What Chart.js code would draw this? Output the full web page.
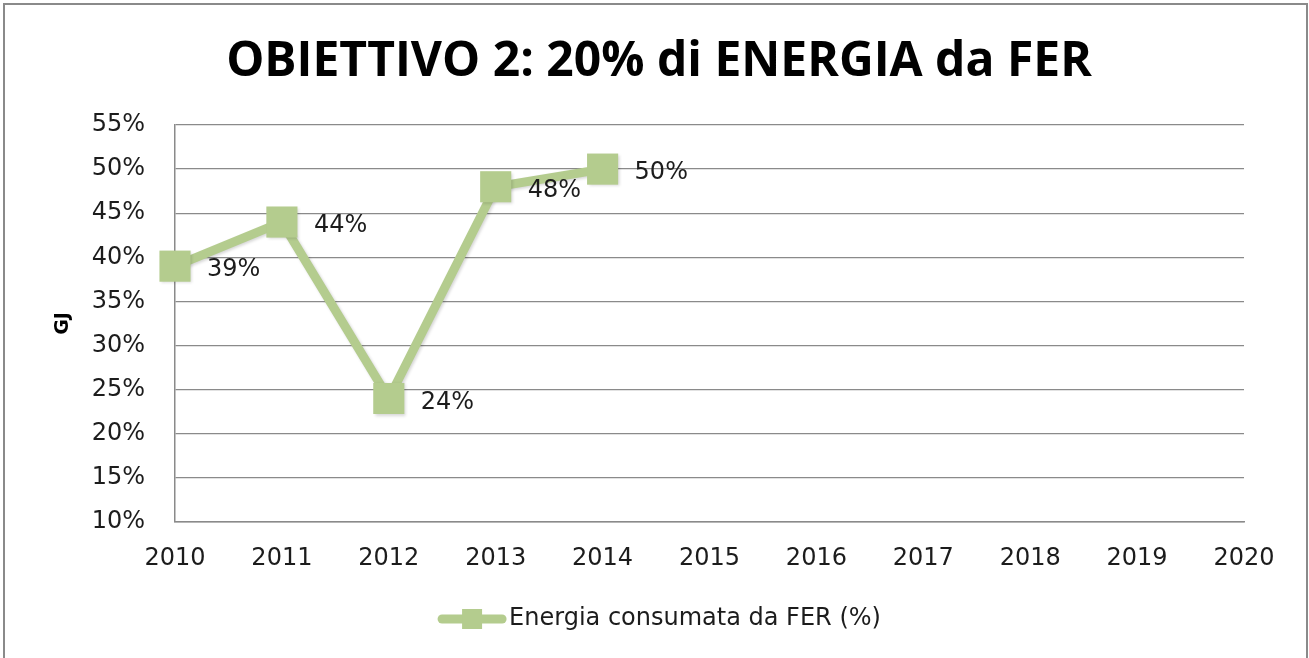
<!DOCTYPE html>
<html>
<head>
<meta charset="utf-8">
<script src="https://cdn.jsdelivr.net/npm/chart.js@4/dist/chart.umd.min.js"></script>
<style>
  html, body { margin: 0; padding: 0; background: #fff; }
  #wrap { position: relative; width: 1309px; height: 658px; }
</style>
</head>
<body>
<div id="wrap"><canvas id="c" width="1309" height="658"></canvas></div>
<script>
// Anni sull'asse orizzontale
const years = ['2010', '2011', '2012', '2013', '2014', '2015', '2016', '2017', '2018', '2019', '2020'];
// Quota di energia consumata da fonti rinnovabili (%)
const ferShare = [39, 44, 24, 48, 50, null, null, null, null, null, null];
// Scala verticale
const yMin = 10, yMax = 55, yStep = 5;

const titleText = 'OBIETTIVO 2: 20% di ENERGIA da FER';
const seriesLabel = 'Energia consumata da FER (%)';
const green = '#b4cc8e';
const textColor = '#1c1c1c';
const tickFont = '24px "DejaVu Sans"';

// Cornice, titolo, etichette dei valori e legenda
const decor = {
  id: 'decor',
  beforeDraw(chart) {
    const ctx = chart.ctx;
    ctx.save();
    ctx.fillStyle = '#fff';
    ctx.fillRect(0, 0, chart.width, chart.height);
    ctx.strokeStyle = '#8a8a8a';
    ctx.lineWidth = 2;
    ctx.strokeRect(4, 4, chart.width - 6, chart.height + 10);
    ctx.restore();
  },
  beforeDatasetsDraw(chart) {
    const ctx = chart.ctx;
    ctx.save();
    ctx.shadowColor = 'rgba(0,0,0,0.16)';
    ctx.shadowBlur = 3;
    ctx.shadowOffsetX = 1.5;
    ctx.shadowOffsetY = 1.5;
  },
  afterDatasetsDraw(chart) {
    const ctx = chart.ctx;
    ctx.restore();
    ctx.save();
    // titolo
    ctx.fillStyle = '#000';
    ctx.font = 'bold 48px "Open Sans"';
    ctx.textAlign = 'center';
    ctx.textBaseline = 'middle';
    ctx.fillText(titleText, 659, 62);
    // etichette dei valori
    ctx.font = tickFont;
    ctx.fillStyle = textColor;
    ctx.textAlign = 'left';
    const meta = chart.getDatasetMeta(0);
    const data = chart.data.datasets[0].data;
    meta.data.forEach((pt, i) => {
      if (data[i] == null) return;
      ctx.fillText(data[i] + '%', pt.x + 32, pt.y + 4);
    });
    // legenda
    ctx.font = tickFont;
    const label = chart.data.datasets[0].label;
    const tw = ctx.measureText(label).width;
    const lineLen = 66;
    const total = lineLen + 4 + tw;
    const x0 = 660 - total / 2;
    const ly = 619;
    ctx.strokeStyle = green;
    ctx.lineWidth = 9;
    ctx.lineCap = 'round';
    ctx.beginPath();
    ctx.moveTo(x0 + 3, ly);
    ctx.lineTo(x0 + lineLen - 3, ly);
    ctx.stroke();
    ctx.fillStyle = green;
    ctx.fillRect(x0 + lineLen / 2 - 10, ly - 10, 20, 20);
    ctx.fillStyle = textColor;
    ctx.textBaseline = 'middle';
    ctx.fillText(label, x0 + lineLen + 4, ly);
    ctx.restore();
  }
};

new Chart(document.getElementById('c'), {
  type: 'line',
  data: {
    labels: years,
    datasets: [{
      label: seriesLabel,
      data: ferShare,
      borderColor: green,
      backgroundColor: green,
      borderWidth: 9,
      pointStyle: 'rect',
      pointRadius: 22,
      pointBorderWidth: 0,
      pointBackgroundColor: green,
      tension: 0,
      spanGaps: false
    }]
  },
  options: {
    responsive: false,
    animation: false,
    devicePixelRatio: 1,
    layout: { padding: { left: 0, right: 65, top: 125, bottom: 0 } },
    plugins: {
      legend: { display: false },
      title: { display: false },
      tooltip: { enabled: false }
    },
    scales: {
      x: {
        type: 'category',
        offset: false,
        grid: { display: false, drawTicks: false },
        border: { display: true, color: '#8a8a8a', width: 1.5 },
        ticks: {
          color: textColor,
          font: { family: 'DejaVu Sans', size: 24 },
          padding: 22,
          maxRotation: 0,
          autoSkip: false
        },
        afterFit(scale) { scale.height = 136; }
      },
      y: {
        min: yMin,
        max: yMax,
        grid: { color: '#8a8a8a', lineWidth: 1.3, drawTicks: false },
        border: { display: true, color: '#8a8a8a', width: 1.5 },
        ticks: {
          stepSize: yStep,
          color: textColor,
          font: { family: 'DejaVu Sans', size: 24 },
          padding: 30,
          callback: v => v + '%'
        },
        title: {
          display: true,
          text: 'GJ',
          color: '#000',
          font: { family: 'DejaVu Sans', size: 19, weight: 'bold' },
          padding: { top: 52, bottom: 0 }
        },
        afterFit(scale) { scale.width = 175; }
      }
    }
  },
  plugins: [decor]
});
</script>
</body>
</html>
